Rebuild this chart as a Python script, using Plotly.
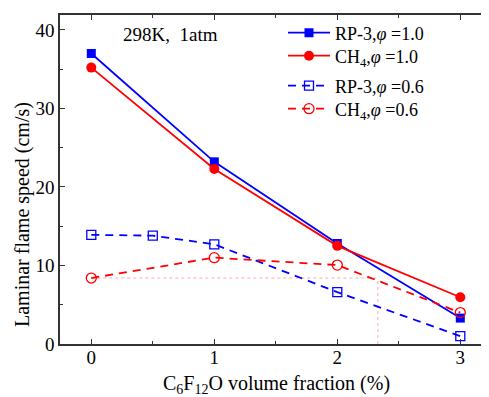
import plotly.graph_objects as go

x_main = [0, 1, 2, 3]
rp3_10 = [37.0, 23.2, 12.8, 3.3]
ch4_10 = [35.2, 22.3, 12.5, 5.95]
x_rp3_06 = [0, 0.5, 1, 2, 3]
rp3_06 = [13.9, 13.8, 12.7, 6.6, 1.0]
ch4_06 = [8.4, 11.0, 10.05, 4.0]

names = ["RP-3,<i>φ</i> =1.0", "CH<sub>4</sub>,<i>φ</i> =1.0",
         "RP-3,<i>φ</i> =0.6", "CH<sub>4</sub>,<i>φ</i> =0.6"]
xticks = [0, 1, 2, 3]
yticks = [0, 10, 20, 30, 40]

FONT = "Liberation Serif"
BLUE = "#0000FF"
RED = "#FF0000"

# page body has an 8px margin -> figure drawn in figure coords (page - 8)
OFF = 8
W, H = 489 - OFF, 397 - OFF
L, R, T, B = 60 - OFF, 0, 15 - OFF, H - (344 - OFF)
pw, ph = W - L - R, H - T - B


def px(xp):
    return (xp - OFF - L) / pw


def py(yp):
    return (H - B - (yp - OFF)) / ph


fig = go.Figure()
fig.add_trace(go.Scatter(x=x_main, y=rp3_10, name=names[0], mode="lines+markers",
                         line=dict(color=BLUE, width=1.8),
                         marker=dict(symbol="square", size=9, color=BLUE),
                         legend="legend"))
fig.add_trace(go.Scatter(x=x_main, y=ch4_10, name=names[1], mode="lines+markers",
                         line=dict(color=RED, width=1.8),
                         marker=dict(symbol="circle", size=10, color=RED),
                         legend="legend2"))
fig.add_trace(go.Scatter(x=x_rp3_06, y=rp3_06, name=names[2], mode="lines+markers",
                         line=dict(color=BLUE, width=1.8, dash="8px,6px"),
                         marker=dict(symbol="square-open", size=9, color=BLUE, line=dict(width=1.3)),
                         legend="legend3"))
fig.add_trace(go.Scatter(x=x_main, y=ch4_06, name=names[3], mode="lines+markers",
                         line=dict(color=RED, width=1.8, dash="8px,6px"),
                         marker=dict(symbol="circle-open", size=10, color=RED, line=dict(width=1.3)),
                         legend="legend4"))

# faint dotted guide lines
fig.add_shape(type="line", x0=0, x1=2.33, y0=ch4_06[0], y1=ch4_06[0], xref="x", yref="y",
              line=dict(color="#FFA8A8", width=1, dash="dot"), layer="below")
fig.add_shape(type="line", x0=2.33, x1=2.33, y0=0, y1=ch4_06[0], xref="x", yref="y",
              line=dict(color="#FFA8A8", width=1, dash="dot"), layer="below")

ann_common = dict(xref="paper", yref="paper", showarrow=False, xanchor="center", yanchor="middle")
fig.add_annotation(x=px(170), y=py(34), text="298K,  1atm",
                   font=dict(family=FONT, size=19, color="black"), **ann_common)
fig.add_annotation(x=px(22), y=py(215), text="Laminar flame speed (cm/s)", textangle=-90,
                   font=dict(family=FONT, size=20, color="black"), **ann_common)
fig.add_annotation(x=px(276), y=py(384), text="C<sub>6</sub>F<sub>12</sub>O volume fraction (%)",
                   font=dict(family=FONT, size=20, color="black"), **ann_common)

axis_common = dict(showline=True, linecolor="#333333", linewidth=1.5, ticks="inside",
                   tickcolor="#333333", tickwidth=1.2, ticklen=5, showgrid=False, zeroline=False,
                   automargin=False,
                   tickfont=dict(family=FONT, size=19, color="black"))

leg_rows = [33, 56, 86, 109]


def leg(yrow):
    return dict(x=px(283), y=py(yrow), xanchor="left", yanchor="middle",
                bgcolor="rgba(0,0,0,0)", itemwidth=42,
                font=dict(family=FONT, size=18, color="black"))


fig.update_layout(
    width=W, height=H,
    margin=dict(l=L, r=R, t=T, b=B),
    paper_bgcolor="white", plot_bgcolor="white",
    font=dict(family=FONT, size=19, color="black"),
    showlegend=True,
    legend=leg(leg_rows[0]),
    legend2=leg(leg_rows[1]),
    legend3=leg(leg_rows[2]),
    legend4=leg(leg_rows[3]),
    xaxis=dict(range=[-0.2545, 3.2333], tickvals=xticks, mirror="ticks", ticklabelstandoff=-5,
               minor=dict(dtick=0.5, ticks="inside", ticklen=3, tickcolor="#333333"),
               **axis_common),
    yaxis=dict(range=[0, 41.9], tickvals=yticks, mirror=False,
               minor=dict(dtick=5, ticks="inside", ticklen=3, tickcolor="#333333"),
               **axis_common),
)

fig.write_html("out.html")
